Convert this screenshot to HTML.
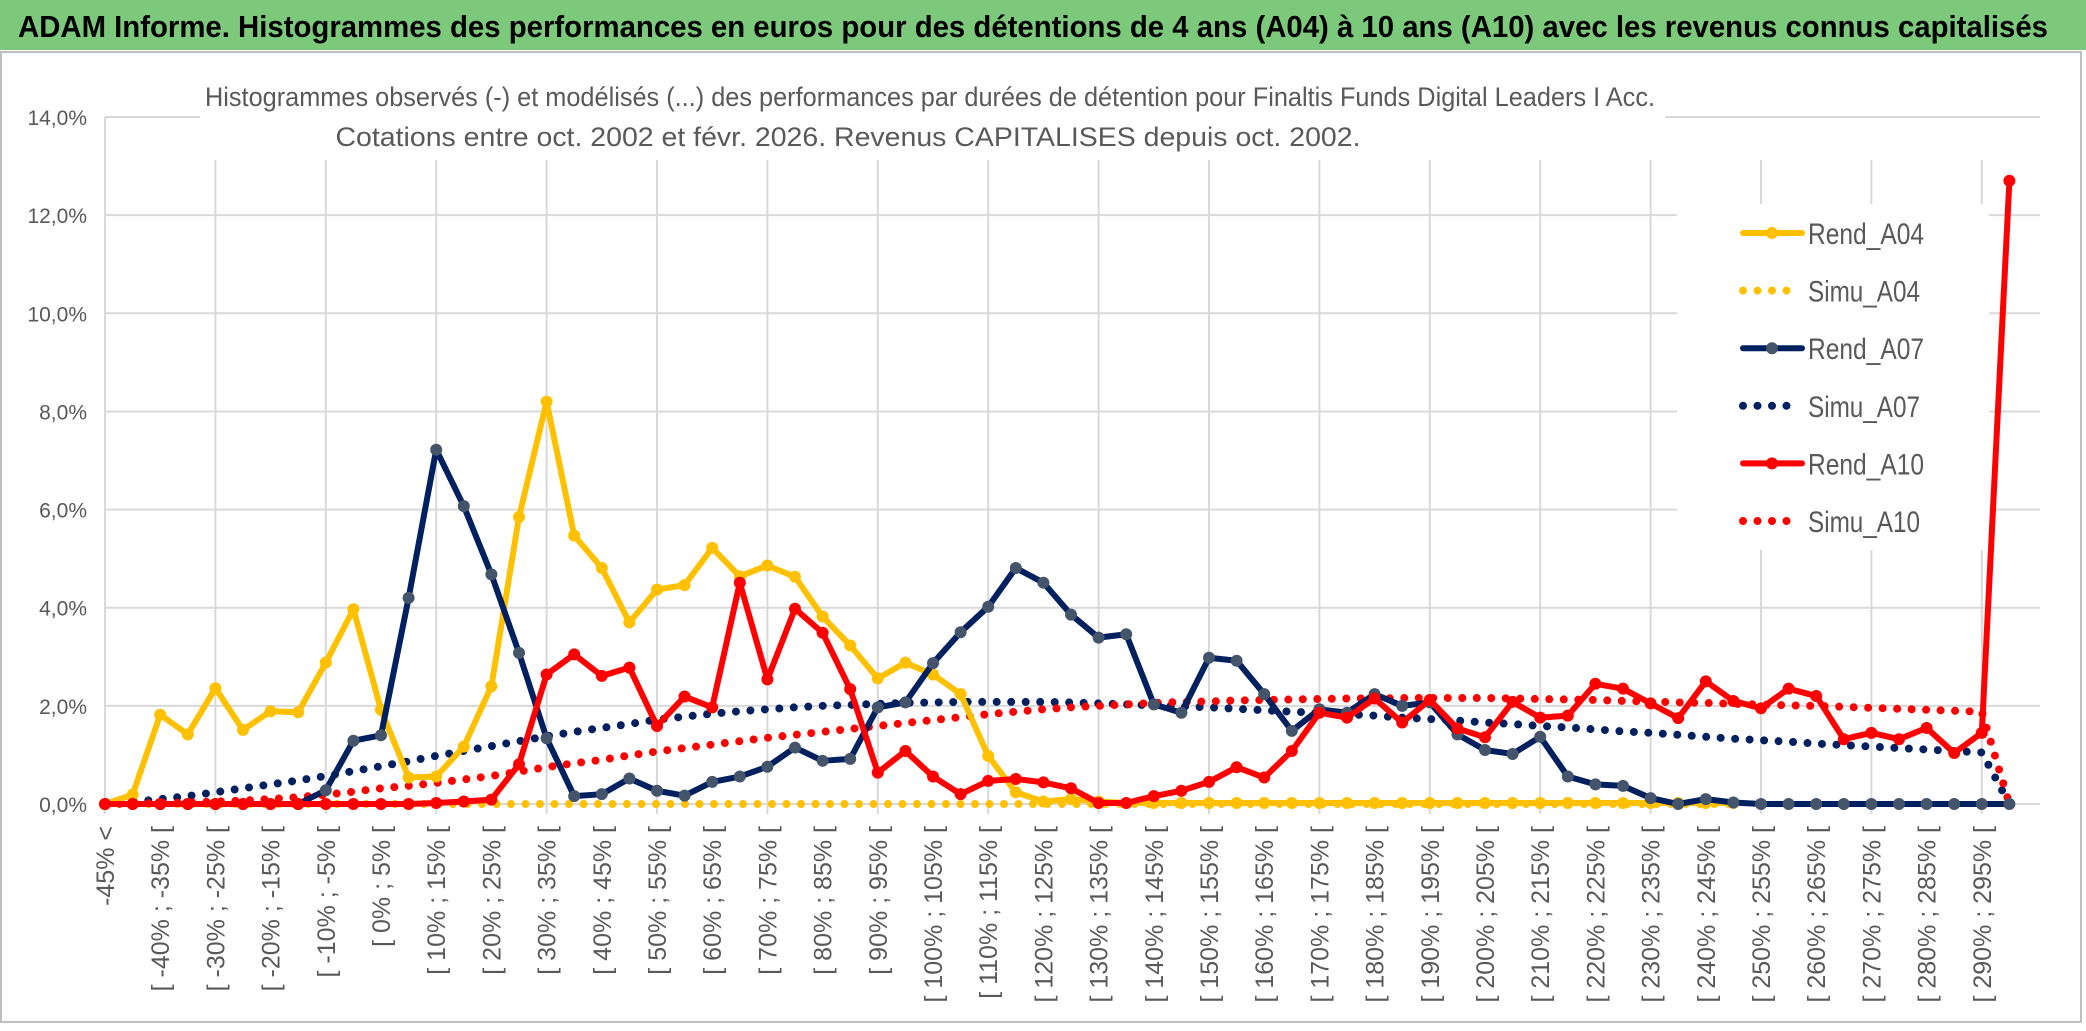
<!DOCTYPE html>
<html><head><meta charset="utf-8"><style>
html,body{margin:0;padding:0;background:#fff;}
svg{display:block;font-family:"Liberation Sans",sans-serif;}
</style></head><body>
<svg id="chart" width="2086" height="1031" viewBox="0 0 2086 1031" xmlns="http://www.w3.org/2000/svg">
<rect x="0" y="0" width="2086" height="1031" fill="#fff"/>
<rect x="1" y="52" width="2080" height="970" fill="#fff" stroke="#bfbfbf" stroke-width="2"/>
<rect x="0" y="0" width="2086" height="50" fill="#7dc97b"/>
<text x="18" y="37" font-size="31" font-weight="bold" fill="#000" textLength="2030" lengthAdjust="spacingAndGlyphs">ADAM Informe. Histogrammes des performances en euros pour des détentions de 4 ans (A04) à 10 ans (A10) avec les revenus connus capitalisés</text>
<g id="grid"></g>
<rect x="200" y="60" width="1465" height="100" fill="#fff"/>
<text x="930" y="106" font-size="27" fill="#595959" text-anchor="middle" textLength="1450" lengthAdjust="spacingAndGlyphs">Histogrammes observés (-) et modélisés (...) des performances par durées de détention pour Finaltis Funds Digital Leaders I Acc.</text>
<text x="848" y="146" font-size="27" fill="#595959" text-anchor="middle" textLength="1025" lengthAdjust="spacingAndGlyphs">Cotations entre oct. 2002 et févr. 2026. Revenus CAPITALISES depuis oct. 2002.</text>
<rect x="1677" y="204" width="312" height="346" fill="#fff"/>
<g id="yaxis"></g>
<g id="xaxis"></g>
<g id="series"></g>
<g id="legend"></g>
</svg>
<script>
const categories=[];
const rendA04=[0,0.19,1.82,1.42,2.36,1.51,1.89,1.87,2.88,3.97,1.92,0.54,0.56,1.17,2.4,5.85,8.2,5.47,4.81,3.7,4.37,4.46,5.22,4.64,4.86,4.63,3.82,3.23,2.56,2.88,2.64,2.24,0.98,0.24,0.05,0.1,0.05,0.02,0.02,0.02,0.02,0.02,0.02,0.02,0.02,0.02,0.02,0.02,0.02,0.02,0.02,0.02,0.02,0.02,0.02,0.02,0.02,0.02,0.02,0.02];
const simuA04=[0,0,0,0,0,0,0,0,0,0,0,0,0,0,0,0,0,0,0,0,0,0,0,0,0,0,0,0,0,0,0,0,0,0,0,0,0,0,0,0,0,0,0,0,0,0,0,0,0,0,0,0,0,0,0,0,0,0,0,0];
const rendA07=[0,0,0,0,0,0,0,0,0.28,1.29,1.4,4.2,7.22,6.07,4.68,3.08,1.34,0.16,0.2,0.52,0.27,0.17,0.45,0.56,0.76,1.15,0.88,0.92,1.97,2.07,2.87,3.5,4.02,4.81,4.51,3.86,3.39,3.46,2.03,1.86,2.98,2.92,2.24,1.49,1.93,1.86,2.24,2.0,2.07,1.42,1.1,1.02,1.37,0.56,0.4,0.37,0.12,0,0.1,0.03,0,0,0,0,0,0,0,0,0,0];
const simuA07=[0,0.04,0.1,0.16,0.24,0.32,0.4,0.48,0.57,0.67,0.77,0.87,0.98,1.08,1.18,1.28,1.38,1.47,1.55,1.63,1.72,1.78,1.84,1.89,1.93,1.97,2.0,2.02,2.04,2.06,2.07,2.08,2.08,2.08,2.08,2.07,2.05,2.03,2.01,1.99,1.97,1.94,1.91,1.88,1.86,1.83,1.8,1.76,1.73,1.7,1.66,1.63,1.59,1.56,1.52,1.48,1.45,1.41,1.37,1.33,1.3,1.27,1.23,1.2,1.17,1.14,1.11,1.08,1.05,0];
const rendA10=[0,0,0,0,0,0,0,0,0,0,0,0,0.02,0.05,0.09,0.81,2.64,3.05,2.61,2.78,1.59,2.19,1.97,4.51,2.54,3.98,3.49,2.34,0.64,1.08,0.56,0.2,0.47,0.51,0.44,0.32,0.02,0.02,0.16,0.27,0.45,0.75,0.54,1.08,1.86,1.76,2.15,1.66,2.12,1.54,1.36,2.08,1.76,1.8,2.45,2.35,2.05,1.75,2.5,2.1,1.95,2.35,2.2,1.32,1.45,1.32,1.55,1.04,1.45,12.7];
const simuA10=[0,0.01,0.02,0.03,0.05,0.07,0.1,0.14,0.19,0.25,0.32,0.37,0.43,0.5,0.57,0.66,0.75,0.83,0.9,0.99,1.07,1.14,1.21,1.28,1.35,1.41,1.47,1.53,1.59,1.65,1.71,1.77,1.83,1.88,1.93,1.97,2.0,2.03,2.06,2.08,2.09,2.11,2.12,2.13,2.14,2.15,2.15,2.16,2.16,2.16,2.16,2.15,2.14,2.13,2.12,2.1,2.09,2.07,2.06,2.04,2.03,2.01,2.0,1.98,1.96,1.94,1.92,1.9,1.88,0];
const yTicks=[0,2,4,6,8,10,12,14];
categories.push('-45% <');
for(let k=1;k<70;k++){const a=-45+5*(k-1);categories.push('[ '+a+'% ; '+(a+5)+'% [');}

const NS='http://www.w3.org/2000/svg';
const X0=105,DX=27.6,Y0=804,PY=49.07;
const xs=i=>X0+DX*i, ys=v=>Y0-v*PY;
function mk(t,a,p){const e=document.createElementNS(NS,t);for(const k in a)e.setAttribute(k,a[k]);(p||document.getElementById('series')).appendChild(e);return e;}
const grid=document.getElementById('grid');
yTicks.forEach(v=>{
  const l=mk('line',{x1:X0,x2:2040,y1:ys(v),y2:ys(v),stroke:'#d9d9d9','stroke-width':2},grid);
  
  
  const t=mk('text',{x:87,y:ys(v)+8,'font-size':21,fill:'#595959','text-anchor':'end'},document.getElementById('yaxis'));
  t.textContent=v.toFixed(1).replace('.',',')+'%';
  
  
});
for(let i=0;i<categories.length;i+=4){
  const l=mk('line',{x1:xs(i),x2:xs(i),y1:160,y2:Y0+10,stroke:'#d9d9d9','stroke-width':2},grid);
  
  
}
mk('line',{x1:X0,x2:X0,y1:ys(14),y2:Y0,stroke:'#d9d9d9','stroke-width':2},grid);
for(let i=0;i<categories.length;i+=2){
  const x=xs(i)+9,y=826;
  const t=mk('text',{x:x,y:y,'font-size':25,fill:'#595959','text-anchor':'end',transform:'rotate(-90 '+x+' '+y+')'},document.getElementById('xaxis'));
  t.textContent=categories[i];
  
  
}
function pts(arr){return arr.map((v,i)=>xs(i)+','+ys(v)).join(' ');}
function solid(arr,color,mcol,name){
  const g=mk('g',{});
  
  
  mk('polyline',{points:pts(arr),fill:'none',stroke:color,'stroke-width':6,'stroke-linejoin':'round'},g);
  arr.forEach((v,i)=>{
    const c=mk('circle',{cx:xs(i),cy:ys(v),r:6,fill:mcol},g);
    
    
  });
}
function dotted(arr,color,name){
  const p=mk('polyline',{points:pts(arr),fill:'none',stroke:color,'stroke-width':8,'stroke-linecap':'round','stroke-dasharray':'0 14.5'});
  
  
}
dotted(simuA04,'#ffc000','simu-a04-line');
dotted(simuA07,'#002060','simu-a07-line');
dotted(simuA10,'#ff0000','simu-a10-line');
solid(rendA04,'#ffc000','#ffc000','rend-a04-line');
solid(rendA07,'#002060','#44546a','rend-a07-line');
solid(rendA10,'#ff0000','#ff0000','rend-a10-line');

const legNames=['Rend_A04','Simu_A04','Rend_A07','Simu_A07','Rend_A10','Simu_A10'];
const legCol=['#ffc000','#ffc000','#002060','#002060','#ff0000','#ff0000'];
const lg=document.getElementById('legend');
legNames.forEach((n,i)=>{
  const y=233+57.6*i;
  const g=mk('g',{},lg);
  
  
  if(i%2===0){
    mk('line',{x1:1743,x2:1802,y1:y,y2:y,stroke:legCol[i],'stroke-width':6,'stroke-linecap':'round'},g);
    mk('circle',{cx:1772,cy:y,r:6,fill:i===2?'#44546a':legCol[i]},g);
  } else {
    mk('line',{x1:1743,x2:1800,y1:y,y2:y,stroke:legCol[i],'stroke-width':8,'stroke-linecap':'round','stroke-dasharray':'0 14.5'},g);
  }
  const t=mk('text',{x:1808,y:y+11,'font-size':30,fill:'#595959',textLength:i%2===0?116:112,lengthAdjust:'spacingAndGlyphs'},g);
  t.textContent=n;
});
</script>
</body></html>
